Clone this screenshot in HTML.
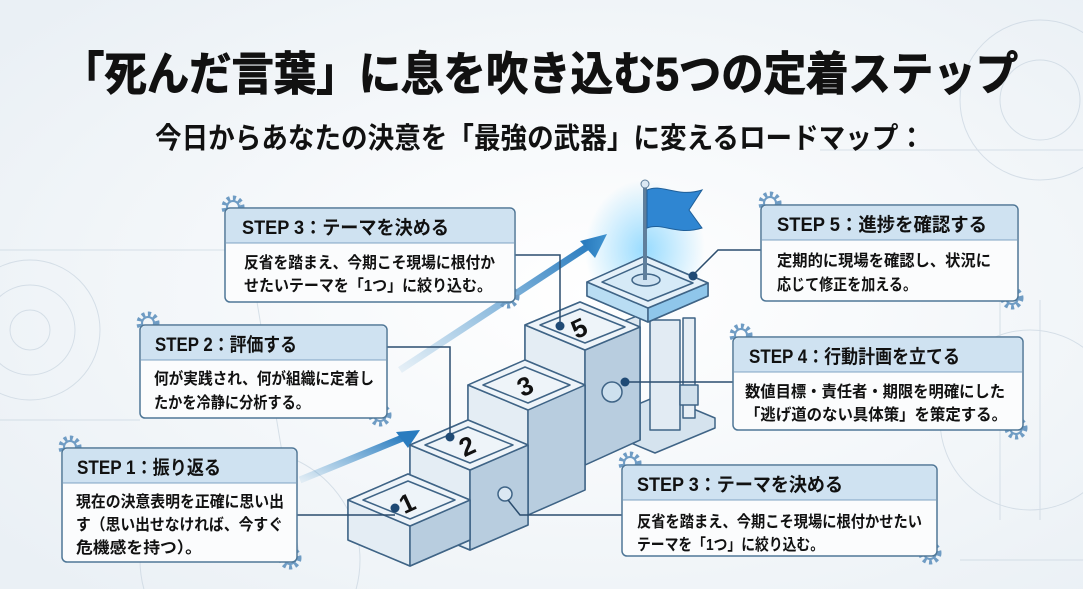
<!DOCTYPE html>
<html><head><meta charset="utf-8"><style>
html,body{margin:0;padding:0;width:1083px;height:589px;overflow:hidden;background:#f3f6f9}
svg{display:block;overflow:hidden}
text{font-family:"Liberation Sans","Noto Sans CJK JP",sans-serif;font-weight:bold;fill:#111}
</style></head><body>
<svg width="1083" height="589" viewBox="0 0 1083 589" xmlns="http://www.w3.org/2000/svg">
<defs>
<radialGradient id="bg" cx="0.55" cy="0.5" r="0.7"><stop offset="0" stop-color="#ffffff"/><stop offset="1" stop-color="#eaf0f5"/></radialGradient>
<radialGradient id="glow" cx="0.5" cy="0.5" r="0.5"><stop offset="0" stop-color="#7fd3ff" stop-opacity="0.8"/><stop offset="1" stop-color="#7fd3ff" stop-opacity="0"/></radialGradient>
<linearGradient id="arr" x1="0" y1="1" x2="1" y2="0"><stop offset="0" stop-color="#3d8fc9" stop-opacity="0.1"/><stop offset="1" stop-color="#2a7cbf"/></linearGradient>
<g id="gear"><circle r="9" fill="none" stroke="#6f9cc4" stroke-width="5" stroke-dasharray="3 3"/><circle r="6" fill="none" stroke="#6f9cc4" stroke-width="2"/></g>
</defs>
<rect width="1083" height="589" fill="url(#bg)"/>
<g stroke="#c9d5e0" stroke-width="1" fill="none" opacity="0.7">
<circle cx="30" cy="330" r="70"/><circle cx="30" cy="330" r="45"/><circle cx="30" cy="330" r="20"/>
<circle cx="1040" cy="100" r="80"/><circle cx="1040" cy="100" r="40"/><circle cx="1030" cy="420" r="90"/>
<path d="M0 250 L260 250 M0 420 L140 420 M240 200 L300 560 M1000 300 L1000 520 M1040 300 L1040 520 M960 560 L1083 560 M820 150 L1083 150"/>
<circle cx="250" cy="560" r="110"/>
</g>
<text x="540" y="90" font-size="46" text-anchor="middle" textLength="956" lengthAdjust="spacingAndGlyphs" stroke="#111" stroke-width="1">「死んだ言葉」に息を吹き込む5つの定着ステップ</text>
<text x="540" y="148" font-size="29" text-anchor="middle" textLength="770" lengthAdjust="spacingAndGlyphs">今日からあなたの決意を「最強の武器」に変えるロードマップ：</text>

<path d="M300 480 L405 437" stroke="url(#arr)" stroke-width="7" fill="none"/>
<path d="M396 432 L420 430 L408 448 Z" fill="#2a7cbf"/>
<path d="M400 370 L590 245" stroke="url(#arr)" stroke-width="7" fill="none"/>
<path d="M580 241 L607 234 L595 258 Z" fill="#2a7cbf"/>

<ellipse cx="645" cy="250" rx="60" ry="70" fill="url(#glow)"/>
<g stroke="#3f6486" stroke-width="1.5" stroke-linejoin="round">
<!-- base plate -->
<polygon points="600,420 660,395 715,418 715,428 655,453 600,430" fill="#d5e3ee"/>
<!-- machinery -->
<polygon points="600,330 640,315 640,440 600,455" fill="#dde8f1"/>
<rect x="650" y="320" width="30" height="110" fill="#e2ebf3"/>
<!-- pillar -->
<rect x="683" y="318" width="12" height="100" fill="#e6eef5"/>
<rect x="680" y="385" width="18" height="20" fill="#d0e0ec"/>
<!-- platform -->
<polygon points="587,282 645,256 708,283 708,296 648,322 587,296" fill="#a9d6f2"/>
<polygon points="587,282 648,308 648,322 587,296" fill="#b9ddf3"/>
<polygon points="648,308 708,283 708,296 648,322" fill="#8fc6ea"/>
<polygon points="587,282 645,256 708,283 648,308" fill="#e6f1f9"/>
<polygon points="602,282 645,263 693,283 648,301" fill="#d6eaf7"/>
<ellipse cx="646" cy="280" rx="14" ry="6" fill="#cfe3f2"/>
</g>
<line x1="645" y1="185" x2="645" y2="280" stroke="#5f7f9c" stroke-width="4"/>
<circle cx="645" cy="184" r="4" fill="#dbe8f3" stroke="#5f7f9c"/>
<path d="M647 190 C662 183 677 198 702 190 L689 210 L702 228 C677 236 662 222 647 228 Z" fill="#2f86d2" stroke="#1f5f99"/>
<g stroke="#3f6486" stroke-width="1.5" stroke-linejoin="round">
<polygon points="525,325 580,302 640,327 640,440 585,465 525,440" fill="#c8d9e7"/>
<polygon points="525,325 585,350 585,465 525,440" fill="#e4edf4"/>
<polygon points="585,350 640,327 640,440 585,465" fill="#b8cddf"/>
<polygon points="525,325 580,302 640,327 585,350" fill="#eef4f9"/>
<polygon points="540,325 580,309 625,327 585,343" fill="none"/>
<circle cx="612" cy="392" r="10" fill="#cde0ee"/>
<polygon points="468,385 525,360 585,385 585,490 528,515 468,490" fill="#c8d9e7"/>
<polygon points="468,385 528,410 528,515 468,490" fill="#e4edf4"/>
<polygon points="528,410 585,385 585,490 528,515" fill="#b8cddf"/>
<polygon points="468,385 525,360 585,385 528,410" fill="#eef4f9"/>
<polygon points="483,385 525,367 570,385 528,403" fill="none"/>
<polygon points="410,445 468,420 528,445 528,525 470,550 410,525" fill="#c8d9e7"/>
<polygon points="410,445 470,470 470,550 410,525" fill="#e4edf4"/>
<polygon points="470,470 528,445 528,525 470,550" fill="#b8cddf"/>
<polygon points="410,445 468,420 528,445 470,470" fill="#eef4f9"/>
<polygon points="425,445 468,427 513,445 470,463" fill="none"/>
<polygon points="348,500 408,474 470,500 470,540 410,566 348,540" fill="#c8d9e7"/>
<polygon points="348,500 410,526 410,566 348,540" fill="#e4edf4"/>
<polygon points="410,526 470,500 470,540 410,566" fill="#b8cddf"/>
<polygon points="348,500 408,474 470,500 410,526" fill="#eef4f9"/>
<polygon points="363,500 408,481 455,500 410,519" fill="none"/>
<circle cx="505" cy="494" r="7" fill="#dbe8f3"/>
</g>
<g font-size="26">
<text x="408" y="512" fill="#1f4d78" transform="rotate(-25 408 505)" text-anchor="middle">1</text>
<text x="468" y="455" fill="#1f4d78" transform="rotate(-25 468 448)" text-anchor="middle">2</text>
<text x="526" y="395" fill="#1f4d78" transform="rotate(-25 526 388)" text-anchor="middle">3</text>
<text x="580" y="337" fill="#1f4d78" transform="rotate(-25 580 330)" text-anchor="middle">5</text>
</g>

<g stroke="#2b4d6e" stroke-width="1.5" fill="none">
<path d="M515 255 H560 V325"/><path d="M387 347 H450 V437"/><path d="M297 515 H395"/>
<path d="M761 250 H718 L693 275"/><path d="M733 382 H625"/><path d="M622 515 H520 L508 500"/>
</g>
<g fill="#1f4a75"><circle cx="560" cy="326" r="4.5"/><circle cx="450" cy="437" r="4.5"/><circle cx="395" cy="508" r="4.5"/><circle cx="693" cy="276" r="4.5"/><circle cx="625" cy="382" r="4.5"/></g>

<use href="#gear" x="233" y="207"/><use href="#gear" x="508" y="297"/>
<use href="#gear" x="148" y="323"/><use href="#gear" x="380" y="415"/>
<use href="#gear" x="70" y="447"/><use href="#gear" x="290" y="558"/>
<use href="#gear" x="770" y="203"/><use href="#gear" x="1012" y="298"/>
<use href="#gear" x="741" y="335"/><use href="#gear" x="1016" y="428"/>
<use href="#gear" x="630" y="463"/><use href="#gear" x="930" y="553"/>

<g stroke="#4f7797" stroke-width="1.5">
<rect x="225" y="208" width="290" height="94" rx="5" fill="#fbfcfd"/>
<rect x="140" y="325" width="247" height="93" rx="5" fill="#fbfcfd"/>
<rect x="62" y="448" width="235" height="114" rx="5" fill="#fbfcfd"/>
<rect x="761" y="205" width="257" height="96" rx="5" fill="#fbfcfd"/>
<rect x="733" y="337" width="290" height="93" rx="5" fill="#fbfcfd"/>
<rect x="622" y="465" width="315" height="91" rx="5" fill="#fbfcfd"/>
</g>
<g fill="#cfe2f1">
<path d="M226 243 V213 a4 4 0 0 1 4 -4 H510 a4 4 0 0 1 4 4 V243 Z"/>
<path d="M141 360 V330 a4 4 0 0 1 4 -4 H382 a4 4 0 0 1 4 4 V360 Z"/>
<path d="M63 483 V453 a4 4 0 0 1 4 -4 H292 a4 4 0 0 1 4 4 V483 Z"/>
<path d="M762 240 V210 a4 4 0 0 1 4 -4 H1013 a4 4 0 0 1 4 4 V240 Z"/>
<path d="M734 372 V342 a4 4 0 0 1 4 -4 H1018 a4 4 0 0 1 4 4 V372 Z"/>
<path d="M623 500 V470 a4 4 0 0 1 4 -4 H932 a4 4 0 0 1 4 4 V500 Z"/>
</g>
<g stroke="#7fa3c2" stroke-width="1"><path d="M226 243 H514 M141 360 H386 M63 483 H296 M762 240 H1017 M734 372 H1022 M623 500 H936"/></g>

<g font-size="19">
<text x="242" y="234" textLength="207" lengthAdjust="spacingAndGlyphs">STEP 3：テーマを決める</text>
<text x="155" y="351" textLength="142" lengthAdjust="spacingAndGlyphs">STEP 2：評価する</text>
<text x="77" y="474" textLength="144" lengthAdjust="spacingAndGlyphs">STEP 1：振り返る</text>
<text x="777" y="231" textLength="210" lengthAdjust="spacingAndGlyphs">STEP 5：進捗を確認する</text>
<text x="749" y="363" textLength="211" lengthAdjust="spacingAndGlyphs">STEP 4：行動計画を立てる</text>
<text x="637" y="491" textLength="206" lengthAdjust="spacingAndGlyphs">STEP 3：テーマを決める</text>
</g>
<g font-size="16">
<text x="244" y="268" textLength="251" lengthAdjust="spacingAndGlyphs">反省を踏まえ、今期こそ現場に根付か</text>
<text x="244" y="291" textLength="248" lengthAdjust="spacingAndGlyphs">せたいテーマを「1つ」に絞り込む。</text>
<text x="154" y="384" textLength="220" lengthAdjust="spacingAndGlyphs">何が実践され、何が組織に定着し</text>
<text x="154" y="408" textLength="156" lengthAdjust="spacingAndGlyphs">たかを冷静に分析する。</text>
<text x="76" y="507" textLength="208" lengthAdjust="spacingAndGlyphs">現在の決意表明を正確に思い出</text>
<text x="76" y="530" textLength="207" lengthAdjust="spacingAndGlyphs">す（思い出せなければ、今すぐ</text>
<text x="76" y="553" textLength="126" lengthAdjust="spacingAndGlyphs">危機感を持つ）。</text>
<text x="777" y="266" textLength="214" lengthAdjust="spacingAndGlyphs">定期的に現場を確認し、状況に</text>
<text x="777" y="290" textLength="140" lengthAdjust="spacingAndGlyphs">応じて修正を加える。</text>
<text x="745" y="397" textLength="260" lengthAdjust="spacingAndGlyphs">数値目標・責任者・期限を明確にした</text>
<text x="745" y="420" textLength="262" lengthAdjust="spacingAndGlyphs">「逃げ道のない具体策」を策定する。</text>
<text x="637" y="527" textLength="285" lengthAdjust="spacingAndGlyphs">反省を踏まえ、今期こそ現場に根付かせたい</text>
<text x="637" y="550" textLength="187" lengthAdjust="spacingAndGlyphs">テーマを「1つ」に絞り込む。</text>
</g>
</svg>
</body></html>
